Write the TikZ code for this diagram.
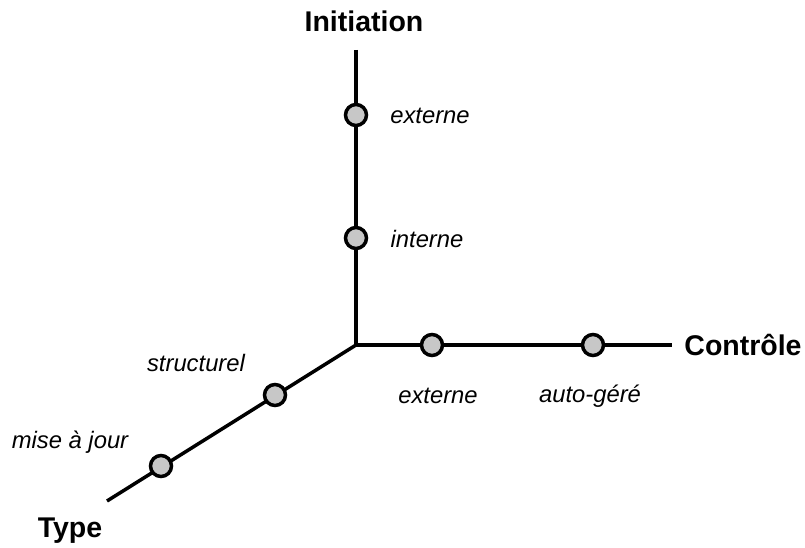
\documentclass[tikz,border=0pt]{standalone}
\usepackage{fontspec}
\setmainfont{Liberation Sans}
\begin{document}
\begin{tikzpicture}[x=1pt,y=-1pt,
  axis/.style={line width=3.5pt},
  dot/.style={circle,draw=black,fill=black!22,line width=3.5pt,minimum size=21pt,inner sep=0pt},
  axlabel/.style={font=\fontsize{28.5}{32}\selectfont\bfseries},
  vlabel/.style={font=\fontsize{23.8}{28}\selectfont\itshape}]
\useasboundingbox (0,0) rectangle (805,548);
\coordinate (O) at (356,345);
\coordinate (I) at (356,50);
\coordinate (C) at (672,345);
\coordinate (T) at (107,501);
\draw[axis] (I) -- (O) -- (C);
\draw[axis] (O) -- (T);
\node[dot] (i1) at (356,115) {};
\node[dot] (i2) at (356,238) {};
\node[dot] (c1) at (432,345) {};
\node[dot] (c2) at (593,345) {};
\node[dot] (t1) at (275,395) {};
\node[dot] (t2) at (161,466) {};
\node[axlabel] (li) at (364,21) {Initiation};
\node[axlabel] (lc) at (743,345) {Contrôle};
\node[axlabel] (lt) at (70,531) {Type};
\node[vlabel] (a1) at (430,116) {externe};
\node[vlabel] (a2) at (427,239) {interne};
\node[vlabel] (a3) at (438,396) {externe};
\node[vlabel] (a4) at (590,396) {auto-géré};
\node[vlabel] (a5) at (196,363) {structurel};
\node[vlabel] (a6) at (70,442) {mise à jour};
\end{tikzpicture}
\end{document}
